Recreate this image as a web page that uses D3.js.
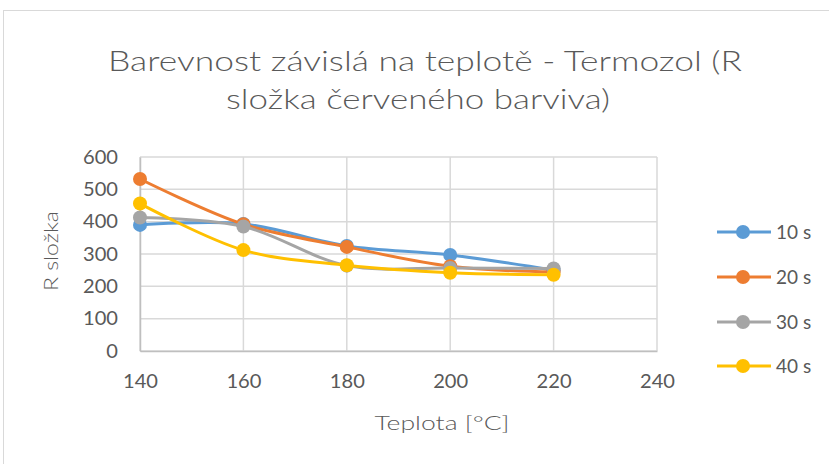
<!DOCTYPE html>
<html><head><meta charset="utf-8">
<script src="https://cdn.jsdelivr.net/npm/d3@7"></script>
<style>body{margin:0;background:#fff;} svg{display:block;font-family:Lato,"Open Sans",sans-serif;}</style>
</head><body>
<svg id="c" width="829" height="464"></svg>
<script>
const temps = [140, 160, 180, 200, 220];
const seriesNames = ["10 s", "20 s", "30 s", "40 s"];
const s10 = [390, 393, 325, 297, 250];
const s20 = [532, 392, 322, 262, 244];
const s30 = [413, 385, 264, 257, 255];
const s40 = [456, 312, 265, 242, 236];
const xTicks = [140, 160, 180, 200, 220, 240];
const yTicks = [0, 100, 200, 300, 400, 500, 600];
const colors = ["#5B9BD5", "#ED7D31", "#A5A5A5", "#FFC000"];
const allSeries = [s10, s20, s30, s40];

const svg = d3.select("#c");
svg.append("rect").attr("x",3.5).attr("y",10.5).attr("width",830).attr("height",460)
  .attr("fill","#fff").attr("stroke","#d9d9d9");

const x = d3.scaleLinear().domain([140,240]).range([140,657]);
const y = d3.scaleLinear().domain([0,600]).range([351,157]);
const SX = 1.06;

// gridlines
svg.append("g").selectAll("line").data(yTicks).join("line")
  .attr("x1",x(140)).attr("x2",x(240)).attr("y1",d=>y(d)).attr("y2",d=>y(d))
  .attr("stroke","#d9d9d9").attr("stroke-width",1.5);
svg.append("g").selectAll("line").data(xTicks).join("line")
  .attr("y1",y(0)).attr("y2",y(600)).attr("x1",d=>x(d)).attr("x2",d=>x(d))
  .attr("stroke","#d9d9d9").attr("stroke-width",1.5);

// axes
const xa = svg.append("g").attr("transform",`translate(0,${y(0)})`)
  .call(d3.axisBottom(x).tickValues(xTicks).tickSize(0).tickPadding(24));
xa.select(".domain").attr("stroke","#bfbfbf").attr("stroke-width",1.5);
xa.selectAll("text").attr("fill","#595959").attr("font-size",19).attr("font-family","Lato,sans-serif")
  .attr("transform",`scale(${SX},1)`);
const ya = svg.append("g").attr("transform",`translate(${x(140)},0)`)
  .call(d3.axisLeft(y).tickValues(yTicks).tickSize(0).tickPadding(22));
ya.select(".domain").attr("stroke","#bfbfbf").attr("stroke-width",1.5);
ya.selectAll("text").attr("fill","#595959").attr("font-size",19).attr("font-family","Lato,sans-serif")
  .attr("x",-22/SX).attr("transform",`scale(${SX},1)`);

// lines
const line = d3.line().x((d,i)=>x(temps[i])).y(d=>y(d)).curve(d3.curveCatmullRom.alpha(0.5));
allSeries.forEach((s,k)=>{
  svg.append("path").attr("d",line(s)).attr("fill","none")
    .attr("stroke",colors[k]).attr("stroke-width",3).attr("stroke-linecap","round");
  svg.append("g").selectAll("circle").data(s).join("circle")
    .attr("cx",(d,i)=>x(temps[i])).attr("cy",d=>y(d)).attr("r",7).attr("fill",colors[k]);
});

// title
svg.append("text").attr("x",425).attr("y",71).attr("text-anchor","middle")
  .attr("font-size",28).attr("fill","#595959").attr("font-weight",300)
  .attr("textLength",634).attr("lengthAdjust","spacingAndGlyphs")
  .text("Barevnost závislá na teplotě - Termozol (R");
svg.append("text").attr("x",418).attr("y",109).attr("text-anchor","middle")
  .attr("font-size",28).attr("fill","#595959").attr("font-weight",300)
  .attr("textLength",384).attr("lengthAdjust","spacingAndGlyphs")
  .text("složka červeného barviva)");

// axis titles
svg.append("text").attr("transform","translate(58,251) rotate(-90)").attr("text-anchor","middle")
  .attr("font-size",20).attr("fill","#595959").attr("font-weight",300)
  .attr("textLength",80).attr("lengthAdjust","spacingAndGlyphs").text("R složka");
svg.append("text").attr("x",442).attr("y",430).attr("text-anchor","middle")
  .attr("font-size",20).attr("fill","#595959").attr("font-weight",300)
  .attr("textLength",135).attr("lengthAdjust","spacingAndGlyphs").text("Teplota [°C]");

// legend
const ly = [232, 277, 322, 366];
const lg = svg.append("g").selectAll("g").data(seriesNames).join("g")
  .attr("transform",(d,i)=>`translate(0,${ly[i]})`);
lg.append("line").attr("x1",717).attr("x2",771).attr("stroke",(d,i)=>colors[i]).attr("stroke-width",3);
lg.append("circle").attr("cx",743).attr("r",7).attr("fill",(d,i)=>colors[i]);
lg.append("text").attr("x",776).attr("y",7).attr("font-size",19).attr("fill","#595959").text(d=>d);
</script>
</body></html>
